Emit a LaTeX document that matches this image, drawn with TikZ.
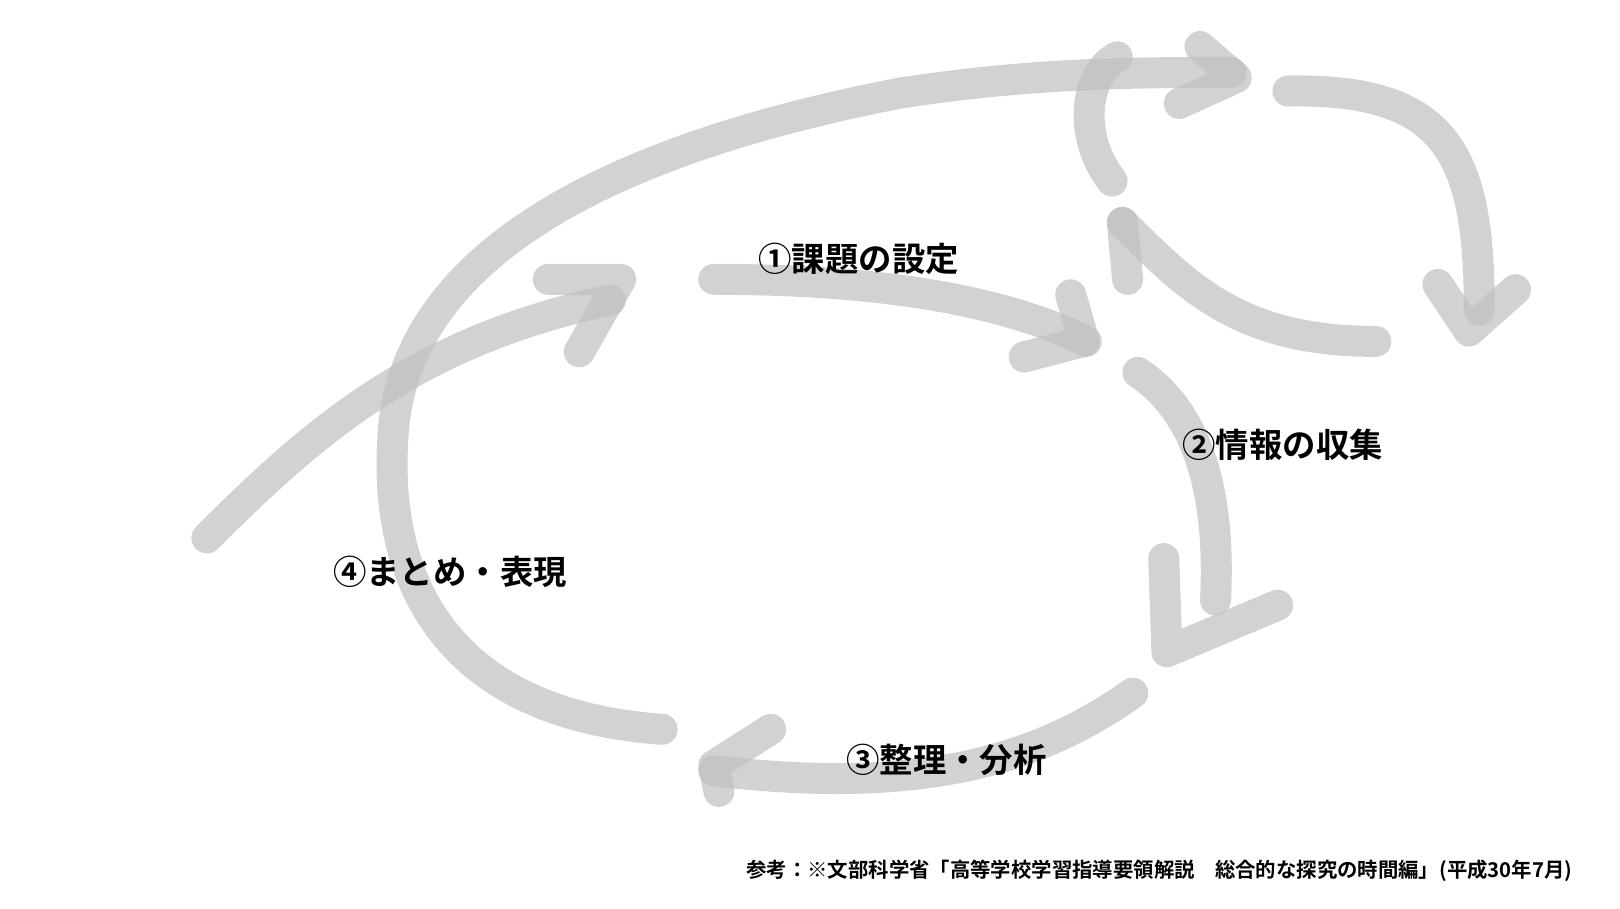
\documentclass[tikz,border=0pt]{standalone}
\usepackage{fontspec}
\setmainfont{Noto Sans CJK JP}[BoldFont={Noto Sans CJK JP Bold}]
\begin{document}
\begin{tikzpicture}[x=0.01034cm,y=-0.01034cm,
	brush/.style={draw=black!25,line width=0.31cm,line cap=round,line join=round,opacity=0.7},
	lbl/.style={font=\bfseries\fontsize{9.5}{11}\selectfont}]
% outer loop
\draw[brush] (640,705) .. controls (430,690) and (370,560) .. (380,420)
	.. controls (390,260) and (560,150) .. (870,90) .. controls (1000,70) and (1100,70) .. (1190,70);
\draw[brush] (1160,45) -- (1195,75) -- (1140,100);
% small loop
\draw[brush] (1075,175) .. controls (1040,130) and (1050,70) .. (1080,55);
\draw[brush] (1245,88) .. controls (1400,85) and (1430,150) .. (1430,300);
\draw[brush] (1390,275) -- (1420,320) -- (1465,280);
\draw[brush] (1330,330) .. controls (1200,330) and (1150,280) .. (1085,215);
\draw[brush] (1085,215) -- (1090,270);
% step 1
\draw[brush] (690,270) .. controls (850,270) and (970,290) .. (1050,330);
\draw[brush] (1035,285) -- (1048,330) -- (990,345);
% step 2
\draw[brush] (1100,360) .. controls (1160,400) and (1180,480) .. (1175,580);
\draw[brush] (1125,540) -- (1128,630) -- (1235,585);
% step 3
\draw[brush] (1095,670) .. controls (1010,730) and (900,770) .. (690,745);
\draw[brush] (745,705) -- (690,740) -- (695,765);
% step 4
\draw[brush] (200,520) .. controls (300,420) and (400,330) .. (590,290);
\draw[brush] (530,270) -- (600,270) -- (560,340);
% labels
\node[lbl] (t1) at (830,250) {①課題の設定};
\node[lbl] (t2) at (1240,430) {②情報の収集};
\node[lbl] (t3) at (915,735) {③整理・分析};
\node[lbl] (t4) at (435,553) {④まとめ・表現};
\node[font=\bfseries\fontsize{5.8}{7}\selectfont,anchor=east] (src) at (1532,842)
	{参考：※文部科学省「高等学校学習指導要領解説\quad 総合的な探究の時間編」(平成30年7月)};
\pgfresetboundingbox
\useasboundingbox (0,0) rectangle (1566,878);
\end{tikzpicture}
\end{document}
